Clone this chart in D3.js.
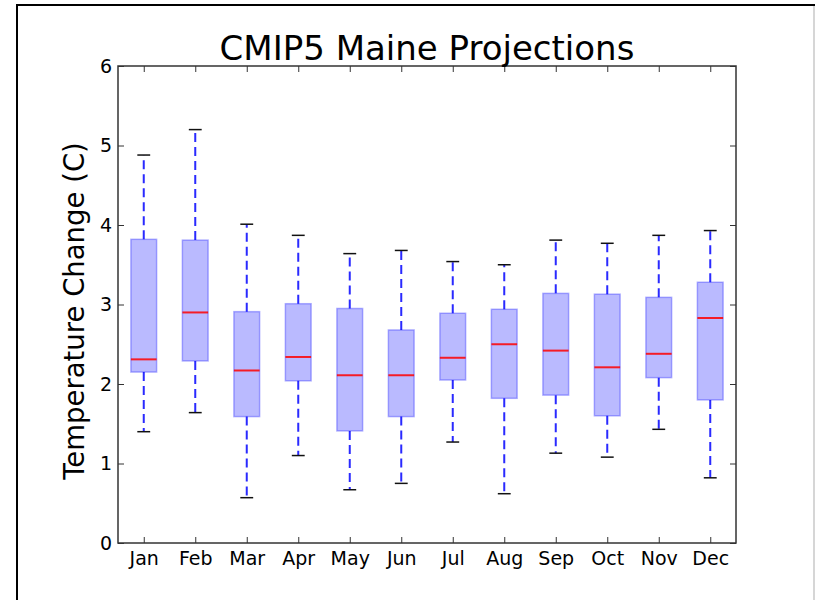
<!DOCTYPE html>
<html>
<head>
<meta charset="utf-8">
<script src="https://cdn.jsdelivr.net/npm/d3@7"></script>
<style>
  html, body { margin: 0; padding: 0; background: #fff; }
  svg { display: block; }
  text { font-family: "DejaVu Sans", sans-serif; }
</style>
</head>
<body>
<svg id="chart" width="815" height="600"></svg>
<script>
// ---- Data ----
const months = ["Jan","Feb","Mar","Apr","May","Jun","Jul","Aug","Sep","Oct","Nov","Dec"];
const whiskerLow  = [1.40, 1.64, 0.57, 1.10, 0.67, 0.75, 1.27, 0.62, 1.13, 1.08, 1.43, 0.82];
const q1          = [2.15, 2.29, 1.59, 2.04, 1.41, 1.59, 2.05, 1.82, 1.86, 1.60, 2.08, 1.80];
const medians     = [2.31, 2.90, 2.17, 2.34, 2.11, 2.11, 2.33, 2.50, 2.42, 2.21, 2.38, 2.83];
const q3          = [3.82, 3.81, 2.91, 3.01, 2.95, 2.68, 2.89, 2.94, 3.14, 3.13, 3.09, 3.28];
const whiskerHigh = [4.88, 5.20, 4.01, 3.87, 3.64, 3.68, 3.54, 3.50, 3.81, 3.77, 3.87, 3.93];
const yTicks = [0, 1, 2, 3, 4, 5, 6];
const titleText = "CMIP5 Maine Projections";
const yLabelText = "Temperature Change (C)";

const rows = months.map((m, i) => ({
  month: m, pos: i + 1,
  lo: whiskerLow[i], q1: q1[i], med: medians[i], q3: q3[i], hi: whiskerHigh[i]
}));

// ---- Layout ----
const svg = d3.select("#chart");
const plot = { left: 118, right: 736, top: 66, bottom: 543 };

const x = d3.scaleLinear().domain([0.5, 12.5]).range([plot.left, plot.right]);
const y = d3.scaleLinear().domain([0, 6]).range([plot.bottom, plot.top]);
const boxW = x(1.5) - x(1);   // 0.5 units wide
const capW = x(1.25) - x(1);  // 0.25 units wide

// Window frame lines
svg.append("line").attr("x1", 16).attr("x2", 815).attr("y1", 5).attr("y2", 5)
  .attr("stroke", "#000").attr("stroke-width", 2);
svg.append("line").attr("x1", 17).attr("x2", 17).attr("y1", 4).attr("y2", 600)
  .attr("stroke", "#000").attr("stroke-width", 2);
svg.append("line").attr("x1", 814).attr("x2", 814).attr("y1", 6).attr("y2", 600)
  .attr("stroke", "#c8c8c8").attr("stroke-width", 1.5);

// ---- Boxes ----
const g = svg.append("g");
const box = g.selectAll("g.box").data(rows).join("g").attr("class", "box");

box.append("line")
  .attr("x1", d => x(d.pos)).attr("x2", d => x(d.pos))
  .attr("y1", d => y(d.q3)).attr("y2", d => y(d.hi))
  .attr("stroke", "#2a2aff").attr("stroke-width", 2)
  .attr("stroke-dasharray", "9,5");
box.append("line")
  .attr("x1", d => x(d.pos)).attr("x2", d => x(d.pos))
  .attr("y1", d => y(d.q1)).attr("y2", d => y(d.lo))
  .attr("stroke", "#2a2aff").attr("stroke-width", 2)
  .attr("stroke-dasharray", "9,5");

box.append("rect")
  .attr("x", d => x(d.pos) - boxW / 2).attr("width", boxW)
  .attr("y", d => y(d.q3)).attr("height", d => y(d.q1) - y(d.q3))
  .attr("fill", "#0000ff").attr("fill-opacity", 0.27)
  .attr("stroke", "#0000ff").attr("stroke-opacity", 0.3).attr("stroke-width", 1.5);

box.append("line")
  .attr("x1", d => x(d.pos) - boxW / 2).attr("x2", d => x(d.pos) + boxW / 2)
  .attr("y1", d => y(d.med)).attr("y2", d => y(d.med))
  .attr("stroke", "#ff0000").attr("stroke-opacity", 0.85).attr("stroke-width", 2);

box.append("line")
  .attr("x1", d => x(d.pos) - capW / 2).attr("x2", d => x(d.pos) + capW / 2)
  .attr("y1", d => y(d.hi)).attr("y2", d => y(d.hi))
  .attr("stroke", "#111").attr("stroke-width", 1.5);
box.append("line")
  .attr("x1", d => x(d.pos) - capW / 2).attr("x2", d => x(d.pos) + capW / 2)
  .attr("y1", d => y(d.lo)).attr("y2", d => y(d.lo))
  .attr("stroke", "#111").attr("stroke-width", 1.5);

// ---- Axes (ticks inward on all four sides) ----
const tickFont = 19;
const xAxisB = svg.append("g").attr("transform", `translate(0,${plot.bottom})`)
  .call(d3.axisBottom(x).tickValues(rows.map(d => d.pos))
    .tickFormat((d, i) => months[i]).tickSizeInner(-6).tickSizeOuter(0).tickPadding(9));
const xAxisT = svg.append("g").attr("transform", `translate(0,${plot.top})`)
  .call(d3.axisTop(x).tickValues(rows.map(d => d.pos))
    .tickFormat("").tickSizeInner(-6).tickSizeOuter(0));
const yAxisL = svg.append("g").attr("transform", `translate(${plot.left},0)`)
  .call(d3.axisLeft(y).tickValues(yTicks).tickFormat(d3.format("d"))
    .tickSizeInner(-6).tickSizeOuter(0).tickPadding(6));
const yAxisR = svg.append("g").attr("transform", `translate(${plot.right},0)`)
  .call(d3.axisRight(y).tickValues(yTicks).tickFormat("")
    .tickSizeInner(-6).tickSizeOuter(0));

[xAxisB, xAxisT, yAxisL, yAxisR].forEach(a => {
  a.select(".domain").remove();
  a.selectAll(".tick line").attr("stroke", "#333").attr("stroke-width", 1);
  a.selectAll(".tick text").attr("font-family", "DejaVu Sans, sans-serif")
    .attr("font-size", tickFont).attr("fill", "#000");
});

svg.append("rect")
  .attr("x", plot.left).attr("y", plot.top)
  .attr("width", plot.right - plot.left).attr("height", plot.bottom - plot.top)
  .attr("fill", "none").attr("stroke", "#333").attr("stroke-width", 1.5);

// ---- Titles ----
svg.append("text")
  .attr("x", (plot.left + plot.right) / 2).attr("y", 60)
  .attr("text-anchor", "middle")
  .attr("font-size", 34).attr("fill", "#000")
  .text(titleText);

svg.append("text")
  .attr("transform", `translate(84,${311}) rotate(-90)`)
  .attr("text-anchor", "middle")
  .attr("font-size", 27.5).attr("fill", "#000")
  .text(yLabelText);
</script>
</body>
</html>
